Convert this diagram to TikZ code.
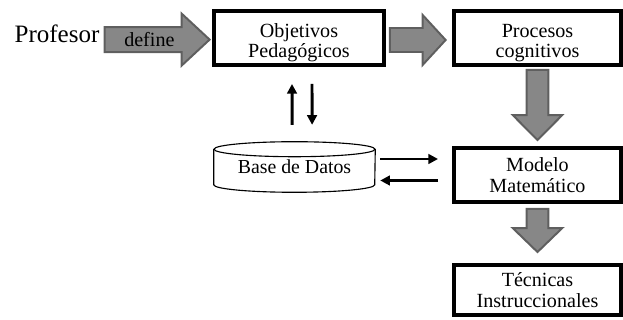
\documentclass[tikz,border=0pt]{standalone}
\usepackage{fontspec}
\setmainfont{Liberation Serif}
\usepackage{xcolor}
\usepackage{tikz}
\definecolor{arrowfill}{RGB}{135, 135, 135}
\definecolor{arrowedge}{RGB}{95, 95, 95}
\usetikzlibrary{arrows.meta,calc}

% block arrows: start, tip, head length, shaft half width, head half width
\newcommand{\harrow}[5]{%
    \draw[bigarrow] ($(#1)+(0,#4)$) -- ($(#2)+(-#3,#4)$) -- ($(#2)+(-#3,#5)$) -- (#2)
        -- ($(#2)+(-#3,-#5)$) -- ($(#2)+(-#3,-#4)$) -- ($(#1)+(0,-#4)$) -- cycle;
}
\newcommand{\varrow}[5]{%
    \draw[bigarrow] ($(#1)+(-#4,0)$) -- ($(#2)+(-#4,#3)$) -- ($(#2)+(-#5,#3)$) -- (#2)
        -- ($(#2)+(#5,#3)$) -- ($(#2)+(#4,#3)$) -- ($(#1)+(#4,0)$) -- cycle;
}
% strut for the first line of a box
\newcommand{\topgap}[1]{\rule{0pt}{#1}}

\begin{document}
\begin{tikzpicture}[
    box/.style={rectangle, draw=black, line width=2.8pt, align=center, inner sep=0pt,
        font=\fontsize{14.3}{14.9}\selectfont},
    bigarrow/.style={fill=arrowfill, draw=arrowedge, line width=1.4pt, line join=miter},
    thinarrow/.style={-{Triangle[length=2.4mm, width=2.4mm]}, line width=2.1pt},
    dbline/.style={draw=black, line width=0.8pt}
]
    \useasboundingbox (0,0) rectangle (15.575,8);

    % Boxes
    \node[box, minimum width=4.25cm, minimum height=1.35cm] (obj) at (7.475,7.05)
        {\topgap{16.6pt}Objetivos\\Pedagógicos};
    \node[box, minimum width=4.175cm, minimum height=1.35cm] (proc) at (13.4375,7.05)
        {\topgap{16.6pt}Procesos\\cognitivos};
    \node[box, minimum width=4.175cm, minimum height=1.35cm] (mod) at (13.4375,3.625)
        {\topgap{10.7pt}Modelo\\Matemático};
    \node[box, minimum width=4.175cm, minimum height=1.25cm] (tec) at (13.4375,0.75)
        {\topgap{10.7pt}Técnicas\\Instruccionales};

    % Teacher
    \node[anchor=base, font=\fontsize{17.8}{20}\selectfont, inner sep=0pt] (prof) at (1.425,6.925) {Profesor};

    % Database
    \node[minimum width=4.025cm, minimum height=0.875cm, inner sep=0pt,
        font=\fontsize{14.1}{16}\selectfont] (db) at (7.3625,3.825) {Base de Datos};
    \draw[dbline] (db.north west) -- (db.south west)
        arc[start angle=180, end angle=360, x radius=2.0125cm, y radius=0.1875cm]
        -- (db.north east);
    \draw[dbline] (db.north) ellipse [x radius=2.0125cm, y radius=0.1875cm];

    % Block arrows
    \coordinate (ps) at ($(prof.east |- obj.west)+(0.125,-0.04)$);
    \coordinate (pe) at ($(obj.west)+(-0.06,-0.04)$);
    \harrow{ps}{pe}{0.7}{0.3125}{0.65}
    \node[font=\fontsize{14.3}{16}\selectfont, inner sep=0pt] (def) at ($(ps)!0.426!(pe)$) {define};

    \coordinate (oe) at ($(obj.east)+(0.1,-0.05)$);
    \coordinate (pw) at ($(proc.west |- oe)+(-0.16,0)$);
    \harrow{oe}{pw}{0.575}{0.3}{0.625}

    \coordinate (psb) at ($(proc.south)+(0,-0.075)$);
    \coordinate (mn) at ($(mod.north)+(0,0.15)$);
    \varrow{psb}{mn}{0.625}{0.27}{0.62}

    \coordinate (msb) at ($(mod.south)+(0,-0.125)$);
    \coordinate (tn) at ($(tec.north)+(0,0.275)$);
    \varrow{msb}{tn}{0.6}{0.27}{0.62}

    % Data exchange
    \draw[thinarrow] ($(db.north)+(-0.06,0.61)$) -- ($(obj.south)+(-0.175,-0.425)$);
    \draw[thinarrow] ($(obj.south)+(0.325,-0.425)$) -- ($(db.north)+(0.44,0.61)$);
    \draw[thinarrow] ($(db.east)+(0.125,0.2)$) -- ($(mod.west)+(-0.35,0.4)$);
    \draw[thinarrow] ($(mod.west)+(-0.35,-0.1375)$) -- ($(db.east)+(0.125,-0.3375)$);
\end{tikzpicture}
\end{document}
